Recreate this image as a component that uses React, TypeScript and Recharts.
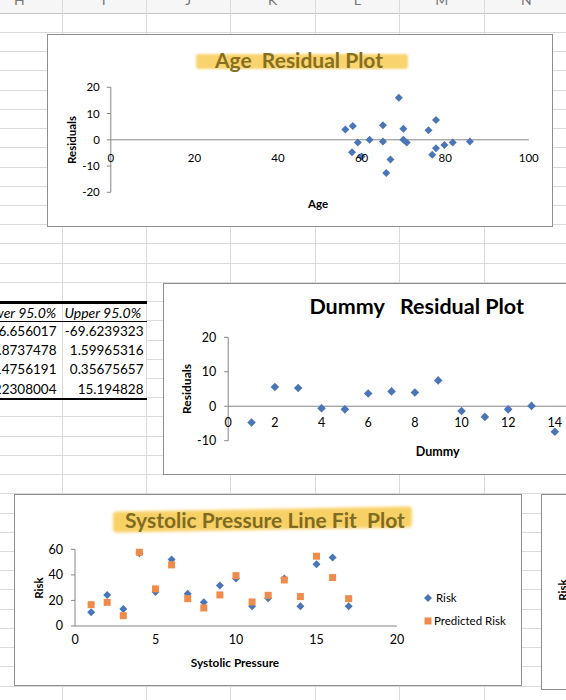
import React from 'react';
import { ScatterChart, Scatter, XAxis, YAxis, ReferenceLine } from 'recharts';

// ---- data ----
const ageValues = [56.1, 57.9, 57.7, 59.1, 60.0, 61.9, 65.1, 65.1, 65.9, 66.9, 68.9, 70.0, 70.0, 70.8, 76.0, 76.9, 77.8, 77.8, 79.8, 81.8, 85.9];
const ageResiduals = [3.9, 5.3, -4.7, -1.0, -6.4, 0.0, 5.5, -0.6, -12.6, -7.5, 16.0, 4.2, 0.0, -1.0, 3.6, -5.7, 7.5, -3.2, -2.0, -1.0, -0.6];
const ageTicks = [0, 20, 40, 60, 80, 100];
const ageResidualTicks = [-20, -10, 0, 10, 20];

const dummyValues = [1, 2, 3, 4, 5, 6, 7, 8, 9, 10, 11, 12, 13, 14];
const dummyResiduals = [-4.7, 5.6, 5.3, -0.6, -0.9, 3.7, 4.3, 4.0, 7.5, -1.4, -3.1, -0.9, 0.1, -7.4];
const dummyTicks = [0, 2, 4, 6, 8, 10, 12, 14, 16];
const dummyResidualTicks = [-10, 0, 10, 20];

const systolicValues = [1, 2, 3, 4, 5, 6, 7, 8, 9, 10, 11, 12, 13, 14, 15, 16, 17];
const riskValues = [10.7, 24.3, 13.3, 56.9, 26.6, 52.0, 25.3, 18.5, 31.6, 37.1, 15.4, 21.7, 37.1, 15.4, 48.3, 53.5, 15.4];
const predictedRisk = [16.7, 18.5, 8.1, 57.7, 29.0, 47.8, 21.4, 14.1, 24.3, 39.4, 18.8, 24.0, 36.0, 23.0, 54.6, 37.9, 21.4];
const systolicTicks = [0, 5, 10, 15, 20];
const riskTicks = [0, 20, 40, 60];

const ciHeaders = ['Lower 95.0%', 'Upper 95.0%'];
const lower95 = ['-166.656017', '-0.8737478', '-0.14756191', '-0.22308004'];
const upper95 = ['-69.6239323', '1.59965316', '0.35675657', '15.194828'];

const columnLetters = ['H', 'I', 'J', 'K', 'L', 'M', 'N'];

// ---- styling ----
const FONT = 'Lato, "Open Sans", sans-serif';
const AXIS = '#868686';
const BLUE = '#4a76b8';
const ORANGE = '#ef8c4b';
const GRID = '#dadada';
const COL_LINES = [61.5, 145.5, 230, 314.5, 399, 483.5];
const COL_W = 84.5;

const Diamond = (props: any) => {
  const { cx, cy, fill, r = 4 } = props;
  if (cx == null || cy == null) return null;
  return <polygon points={`${cx},${cy - r} ${cx + r},${cy} ${cx},${cy + r} ${cx - r},${cy}`} fill={fill} />;
};

const Square = (props: any) => {
  const { cx, cy, fill } = props;
  if (cx == null || cy == null) return null;
  return <rect x={cx - 3.5} y={cy - 3.5} width={7} height={7} fill={fill} />;
};

// x labels that sit next to the zero line instead of under the plot
const ShiftTick = (props: any) => {
  const { x, y, payload, shift, fontSize } = props;
  return (
    <text x={x} y={y + shift} textAnchor="middle" dominantBaseline="central"
      fontSize={fontSize} fill="#000" fontFamily={FONT}>
      {payload.value}
    </text>
  );
};

const abs = (left: number, top: number, extra: React.CSSProperties = {}): React.CSSProperties => ({
  position: 'absolute', left, top, ...extra,
});

const Centered = ({ x, y, size, bold = true, color = '#000', rotate = false, children }: any) => (
  <div style={abs(x, y, {
    transform: `translate(-50%, -50%)${rotate ? ' rotate(-90deg)' : ''}`,
    fontSize: size, fontWeight: bold ? 700 : 400, color, whiteSpace: 'pre', lineHeight: 1,
  })}>{children}</div>
);

const box = (left: number, top: number, width: number, height: number): React.CSSProperties => ({
  position: 'absolute', left, top, width, height, boxSizing: 'border-box',
  border: '1px solid #8e8e8e', background: '#fff',
});

const App = () => {
  const ageData = ageValues.map((x, i) => ({ x, y: ageResiduals[i] }));
  const dummyData = dummyValues.map((x, i) => ({ x, y: dummyResiduals[i] }));
  const riskData = systolicValues.map((x, i) => ({ x, y: riskValues[i] }));
  const predictedData = systolicValues.map((x, i) => ({ x, y: predictedRisk[i] }));
  const rowLines = Array.from({ length: 36 }, (_, i) => 12.8 + 19.22 * i);

  return (
    <div style={{ position: 'fixed', left: 0, top: 0, width: 566, height: 700, overflow: 'hidden', background: '#fff', fontFamily: FONT }}>
      {/* column header strip */}
      <div style={abs(0, 0, { width: 566, height: 12.8, background: '#f6f6f6' })} />
      {columnLetters.map((c, i) => (
        <div key={c} style={abs(61.5 - COL_W + i * COL_W, -9, { width: COL_W, textAlign: 'center', fontSize: 14, color: '#777' })}>{c}</div>
      ))}
      {/* sheet grid */}
      {rowLines.map((y, i) => (
        <div key={`r${i}`} style={abs(0, y, { width: 566, height: i === 0 ? 1.5 : 1, background: i === 0 ? '#c4c4c4' : GRID })} />
      ))}
      {COL_LINES.map((x, i) => (
        <div key={`c${i}`} style={abs(x, 0, { width: 1, height: 700, background: GRID })} />
      ))}

      {/* regression output table, cut off at the left edge */}
      <div style={abs(0, 301, { width: 146.5, height: 99, background: '#fff' })} />
      <div style={abs(61.5, 301, { width: 1, height: 99, background: GRID })} />
      <div style={abs(145.5, 301, { width: 1, height: 99, background: GRID })} />
      <div style={abs(0, 301, { width: 146.5, height: 2.5, background: '#000' })} />
      <div style={abs(0, 320.5, { width: 146.5, height: 1.3, background: '#000' })} />
      <div style={abs(0, 397.5, { width: 146.5, height: 2.5, background: '#000' })} />
      {ciHeaders.map((h, i) => (
        <div key={h} style={abs(61.5 - COL_W + i * COL_W - 1, 303.5, { width: COL_W, height: 17, lineHeight: '17px', textAlign: 'center', fontStyle: 'italic', fontSize: 14, color: '#000', whiteSpace: 'nowrap' })}>{h}</div>
      ))}
      {lower95.map((v, i) => (
        <div key={`l${i}`} style={abs(-43.5, 322 + 19.2 * i, { width: 100, height: 19.2, lineHeight: '19.2px', textAlign: 'right', fontSize: 13.5, whiteSpace: 'nowrap' })}>{v}</div>
      ))}
      {upper95.map((v, i) => (
        <div key={`u${i}`} style={abs(43.5, 322 + 19.2 * i, { width: 100, height: 19.2, lineHeight: '19.2px', textAlign: 'right', fontSize: 13.5, whiteSpace: 'nowrap' })}>{v}</div>
      ))}

      {/* Age residual plot */}
      <div style={box(46.5, 34, 506, 193)}>
        <ScatterChart width={504} height={191} margin={{ top: 52.3, right: 23.2, bottom: 13.7, left: 0 }}>
          <XAxis type="number" dataKey="x" domain={[0, 100]} ticks={ageTicks} interval={0}
            axisLine={false} tickLine={false} tickSize={0} tickMargin={0} height={20}
            tick={(p: any) => <ShiftTick {...p} shift={-34.6} fontSize={11.5} />} />
          <YAxis type="number" dataKey="y" domain={[-20, 20]} ticks={ageResidualTicks} interval={0}
            width={62.8} axisLine={{ stroke: AXIS }} tickLine={{ stroke: AXIS }} tickSize={4} tickMargin={7}
            tick={{ fontSize: 11.5, fill: '#000', fontFamily: FONT }} />
          <ReferenceLine y={0} stroke={AXIS} />
          <Scatter data={ageData} fill={BLUE} shape={(p: any) => <Diamond {...p} r={4} />} isAnimationActive={false} />
        </ScatterChart>
      </div>
      <div style={abs(196, 54, { width: 212, height: 15, background: '#f9cc55', opacity: 0.85, filter: 'blur(1.2px)', borderRadius: 3 })} />
      <Centered x={299} y={59} size={21} color="#86701f">{'Age  Residual Plot'}</Centered>
      <Centered x={71.7} y={140} size={11.5} rotate>Residuals</Centered>
      <Centered x={318} y={204} size={11.5}>Age</Centered>

      {/* Dummy residual plot */}
      <div style={box(162.5, 283, 462, 192)}>
        <ScatterChart width={460} height={190} margin={{ top: 53.3, right: 22.5, bottom: 13.3, left: 0 }}>
          <XAxis type="number" dataKey="x" domain={[0, 16]} ticks={dummyTicks} interval={0}
            axisLine={false} tickLine={false} tickSize={0} tickMargin={0} height={20}
            tick={(p: any) => <ShiftTick {...p} shift={-18.5} fontSize={12.5} />} />
          <YAxis type="number" dataKey="y" domain={[-10, 20]} ticks={dummyResidualTicks} interval={0}
            width={64.2} axisLine={{ stroke: AXIS }} tickLine={{ stroke: AXIS }} tickSize={4} tickMargin={8}
            tick={{ fontSize: 12.5, fill: '#000', fontFamily: FONT }} />
          <ReferenceLine y={0} stroke={AXIS} />
          <Scatter data={dummyData} fill={BLUE} shape={(p: any) => <Diamond {...p} r={4.3} />} isAnimationActive={false} />
        </ScatterChart>
      </div>
      <Centered x={416.7} y={307} size={21.5}>{'Dummy   Residual Plot'}</Centered>
      <Centered x={187.3} y={389} size={12} rotate>Residuals</Centered>
      <Centered x={437.7} y={452} size={12.5}>Dummy</Centered>

      {/* Systolic pressure line fit plot */}
      <div style={box(14, 494, 508, 192)}>
        <ScatterChart width={506} height={190} margin={{ top: 54.3, right: 124, bottom: 29, left: 0 }}>
          <XAxis type="number" dataKey="x" domain={[0, 20]} ticks={systolicTicks} interval={0}
            axisLine={{ stroke: AXIS }} tickLine={false} tickSize={4} tickMargin={5} height={30}
            tick={{ fontSize: 12.5, fill: '#000', fontFamily: FONT }} />
          <YAxis type="number" dataKey="y" domain={[0, 60]} ticks={riskTicks} interval={0}
            width={60} axisLine={{ stroke: AXIS }} tickLine={{ stroke: AXIS }} tickSize={4} tickMargin={8}
            tick={{ fontSize: 12.5, fill: '#000', fontFamily: FONT }} />
          <Scatter name="Risk" data={riskData} fill={BLUE} shape={(p: any) => <Diamond {...p} r={4} />} isAnimationActive={false} />
          <Scatter name="Predicted Risk" data={predictedData} fill={ORANGE} shape={Square} isAnimationActive={false} />
        </ScatterChart>
      </div>
      <div style={abs(113, 509, { width: 299, height: 21, background: '#f7c94c', opacity: 0.85, filter: 'blur(1.5px)', borderRadius: 4, transform: 'skewY(-1deg)' })} />
      <Centered x={265} y={519} size={21} color="#7f6c22">{'Systolic Pressure Line Fit  Plot'}</Centered>
      <Centered x={39} y={588} size={11.5} rotate>Risk</Centered>
      <Centered x={235} y={663} size={11.8}>Systolic Pressure</Centered>
      <svg style={abs(423, 592)} width={12} height={34}>
        <polygon points="5,2 9,6 5,10 1,6" fill={BLUE} />
        <rect x={1.5} y={25.5} width={7} height={7} fill={ORANGE} />
      </svg>
      <div style={abs(436, 591, { fontSize: 11.5, lineHeight: '14px' })}>Risk</div>
      <div style={abs(434, 614, { fontSize: 11.5, lineHeight: '14px', whiteSpace: 'nowrap' })}>Predicted Risk</div>

      {/* next chart, mostly off-screen */}
      <div style={box(541, 494, 100, 196)} />
      <Centered x={563} y={590} size={11.5} rotate>Risk</Centered>
    </div>
  );
};

export default App;
